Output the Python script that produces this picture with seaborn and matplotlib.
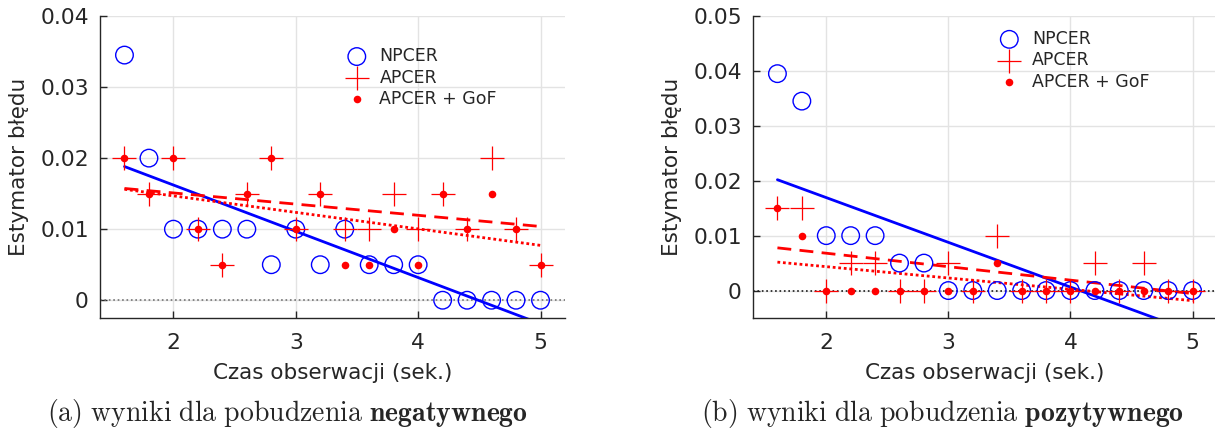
import numpy as np
import seaborn as sns
import matplotlib.pyplot as plt

# observation time (s)
czas = [1.6, 1.8, 2.0, 2.2, 2.4, 2.6, 2.8, 3.0, 3.2, 3.4,
        3.6, 3.8, 4.0, 4.2, 4.4, 4.6, 4.8, 5.0]

# (a) negative stimulation
npcer_neg = [0.0345, 0.020, 0.010, 0.010, 0.010, 0.010, 0.005, 0.010, 0.005, 0.010,
             0.005, 0.005, 0.005, 0.0, 0.0, 0.0, 0.0, 0.0]
apcer_neg = [0.020, 0.015, 0.020, 0.010, 0.005, 0.015, 0.020, 0.010, 0.015, 0.010,
             0.010, 0.015, 0.010, 0.015, 0.010, 0.020, 0.010, 0.005]
gof_neg = [0.020, 0.015, 0.020, 0.010, 0.005, 0.015, 0.020, 0.010, 0.015, 0.005,
           0.005, 0.010, 0.005, 0.015, 0.010, 0.015, 0.010, 0.005]

# (b) positive stimulation
npcer_pos = [0.0395, 0.0345, 0.010, 0.010, 0.010, 0.005, 0.005, 0.0, 0.0, 0.0,
             0.0, 0.0, 0.0, 0.0, 0.0, 0.0, 0.0, 0.0]
apcer_pos = [0.015, 0.015, 0.0, 0.005, 0.005, 0.0, 0.0, 0.005, 0.0, 0.010,
             0.0, 0.0, 0.0, 0.005, 0.0, 0.005, 0.0, 0.0]
gof_pos = [0.015, 0.010, 0.0, 0.0, 0.0, 0.0, 0.0, 0.0, 0.0, 0.005,
           0.0, 0.0, 0.0, 0.0, 0.0, 0.0, 0.0, 0.0]

captions = [r'$\mathrm{(a)\ wyniki\ dla\ pobudzenia\ }\mathbf{negatywnego}$',
            r'$\mathrm{(b)\ wyniki\ dla\ pobudzenia\ }\mathbf{pozytywnego}$']

BLUE = '#0000ff'
RED = '#ff0000'
DARK = '#262626'


def draw_panel(ax, npcer, apcer, gof, ylim, yticks, zero_color, leg_y):
    ax.axhline(0, color=zero_color, ls=':', lw=1.2, zorder=1)

    sns.scatterplot(x=czas, y=npcer, ax=ax, marker='o', s=160, facecolor='none',
                    edgecolor=BLUE, linewidth=1.0, label='NPCER', zorder=3)
    sns.scatterplot(x=czas, y=apcer, ax=ax, marker='+', s=280, color=RED,
                    linewidth=0.9, label='APCER', zorder=3)
    sns.scatterplot(x=czas, y=gof, ax=ax, marker='o', s=30, color=RED,
                    edgecolor=RED, linewidth=0, label='APCER + GoF', zorder=3)

    # least-squares trend lines
    sns.regplot(x=czas, y=npcer, ax=ax, scatter=False, ci=None,
                line_kws=dict(color=BLUE, lw=2, ls='-', zorder=2))
    sns.regplot(x=czas, y=apcer, ax=ax, scatter=False, ci=None,
                line_kws=dict(color=RED, lw=2, ls=(0, (5, 3)), zorder=2))
    sns.regplot(x=czas, y=gof, ax=ax, scatter=False, ci=None,
                line_kws=dict(color=RED, lw=2, ls=(0, (1, 1)), zorder=2))

    ax.set_xlim(1.4, 5.2)
    ax.set_ylim(*ylim)
    ax.set_xticks([2, 3, 4, 5])
    ax.set_xticklabels(['2', '3', '4', '5'])
    ax.set_yticks(yticks)
    ax.set_yticklabels(['0' if t == 0 else f'{t:.2f}' for t in yticks])
    ax.grid(True, color='#e3e3e3', lw=1)
    ax.set_axisbelow(True)
    for side in ['top', 'right']:
        ax.spines[side].set_visible(False)
    for side in ['left', 'bottom']:
        ax.spines[side].set_visible(True)
        ax.spines[side].set_color(DARK)
        ax.spines[side].set_linewidth(1.0)
    ax.tick_params(direction='in', length=5, width=1, color=DARK,
                   labelcolor=DARK, labelsize=15.7, left=True, bottom=True)
    ax.tick_params(axis='x', pad=11)
    ax.tick_params(axis='y', pad=8)
    ax.set_xlabel('Czas obserwacji (sek.)', fontsize=15.5, color=DARK, labelpad=7)
    ax.set_ylabel('Estymator błędu', fontsize=15.5, color=DARK, labelpad=8)

    leg = ax.legend(loc='upper left', bbox_to_anchor=(0.5, leg_y), frameon=False,
                    fontsize=12.5, handletextpad=0.3, labelspacing=0.2,
                    borderaxespad=0)
    for t in leg.get_texts():
        t.set_color(DARK)


sns.set_theme(style='whitegrid')
plt.rcParams['font.family'] = ['DejaVu Sans']
plt.rcParams['mathtext.fontset'] = 'cm'

fig = plt.figure(figsize=(12.15, 4.34), dpi=100)
ax1 = fig.add_axes([100 / 1215, 1 - 318 / 434, 465 / 1215, 302 / 434])
ax2 = fig.add_axes([753 / 1215, 1 - 318 / 434, 464 / 1215, 302 / 434])

draw_panel(ax1, npcer_neg, apcer_neg, gof_neg, (-0.0025, 0.04),
           [0, 0.01, 0.02, 0.03, 0.04], '0.45', 0.92)
draw_panel(ax2, npcer_pos, apcer_pos, gof_pos, (-0.005, 0.05),
           [0, 0.01, 0.02, 0.03, 0.04, 0.05], 'k', 0.977)

fig.text(287 / 1215, 1 - 414 / 434, captions[0], ha='center', va='center', fontsize=20)
fig.text(942 / 1215, 1 - 414 / 434, captions[1], ha='center', va='center', fontsize=20)

fig.savefig('out.png', dpi=100)
